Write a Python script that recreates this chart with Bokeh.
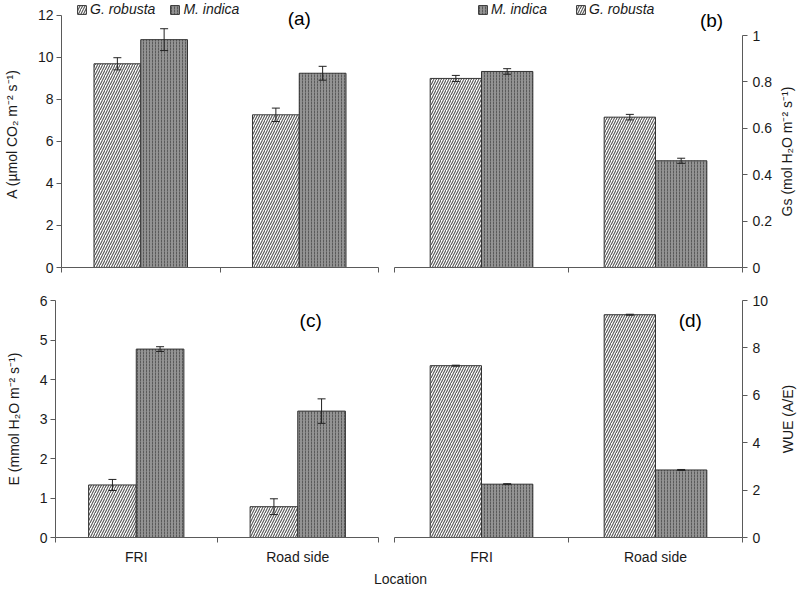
import math
import numpy as np
from bokeh.plotting import figure
from bokeh.models import (ColumnDataSource, Whisker, TeeHead, FixedTicker, Range1d,
                          Legend, LegendItem, Label)
from bokeh.layouts import column, row
from bokeh.embed import file_html
from bokeh.resources import INLINE

# ---------------- data ----------------
locations = ["FRI", "Road side"]
species = ["G. robusta", "M. indica"]

A_gr = [9.70, 7.27]
A_gr_err = [0.29, 0.32]
A_mi = [10.85, 9.25]
A_mi_err = [0.52, 0.33]

Gs_gr = [0.815, 0.648]
Gs_gr_err = [0.013, 0.012]
Gs_mi = [0.845, 0.460]
Gs_mi_err = [0.012, 0.011]

E_gr = [1.33, 0.78]
E_gr_err = [0.14, 0.20]
E_mi = [4.77, 3.20]
E_mi_err = [0.06, 0.31]

WUE_gr = [7.25, 9.40]
WUE_gr_err = [0.02, 0.02]
WUE_mi = [2.25, 2.85]
WUE_mi_err = [0.02, 0.02]

A_ticks = [0, 2, 4, 6, 8, 10, 12]
Gs_ticks = [0, 0.2, 0.4, 0.6, 0.8, 1]
E_ticks = [0, 1, 2, 3, 4, 5, 6]
WUE_ticks = [0, 2, 4, 6, 8, 10]

FONT = "Liberation Sans"
AX = "#5a5a5a"
TXT = "#1a1a1a"
BAR_W = 0.295


def make_panel(gr, gr_err, mi, mi_err, yticks, y_top, ylabel, side, frame_w, frame_h,
               borders, show_xlabels, legend_order, legend_xy, legend_spacing, tag, tag_xy,
               ylabel_standoff=15):
    l, r, t, b = borders
    n = len(locations)
    p = figure(width=l + frame_w + r, height=t + frame_h + b, title=None,
               x_range=Range1d(0, n), y_range=Range1d(yticks[0], y_top),
               toolbar_location=None, output_backend="svg",
               y_axis_location=side,
               min_border_left=l, min_border_right=r,
               min_border_top=t, min_border_bottom=b)
    p.outline_line_color = None
    p.xgrid.visible = False
    p.ygrid.visible = False
    p.background_fill_color = "white"
    p.border_fill_color = "white"

    xc = np.arange(n) + 0.5
    gr = np.array(gr); gr_err = np.array(gr_err)
    mi = np.array(mi); mi_err = np.array(mi_err)
    src_g = ColumnDataSource(dict(x=xc - BAR_W / 2, top=gr, upper=gr + gr_err, lower=gr - gr_err))
    src_m = ColumnDataSource(dict(x=xc + BAR_W / 2, top=mi, upper=mi + mi_err, lower=mi - mi_err))

    r_g = p.vbar(x="x", top="top", bottom=0, width=BAR_W, source=src_g,
                 fill_color="white", hatch_pattern="/", hatch_color="#555555",
                 hatch_scale=5, hatch_weight=1.1, line_color="#333333", line_width=1)
    r_m = p.vbar(x="x", top="top", bottom=0, width=BAR_W, source=src_m,
                 fill_color="#939393", hatch_pattern=":", hatch_color="#5a5a5a",
                 hatch_scale=3, hatch_weight=1, line_color="#333333", line_width=1)

    for src in (src_g, src_m):
        w = Whisker(source=src, base="x", upper="upper", lower="lower", dimension="height",
                    line_color="#222222", line_width=1,
                    upper_head=TeeHead(size=8, line_color="#222222", line_width=1),
                    lower_head=TeeHead(size=8, line_color="#222222", line_width=1))
        w.level = "overlay"
        p.add_layout(w)

    # y axis
    ya = p.yaxis[0]
    ya.ticker = FixedTicker(ticks=yticks)
    ya.bounds = (yticks[0], yticks[-1])
    ya.minor_tick_line_color = None
    ya.major_tick_out = 5
    ya.major_tick_in = 0
    ya.axis_line_color = AX
    ya.major_tick_line_color = AX
    ya.major_label_text_font = FONT
    ya.major_label_text_font_size = "14px"
    ya.major_label_text_color = TXT
    ya.major_label_standoff = 3 if side == "left" else 5
    if side == "left":
        ya.axis_label = ylabel
        ya.axis_label_text_font = FONT
        ya.axis_label_text_font_size = "14px"
        ya.axis_label_text_font_style = "normal"
        ya.axis_label_text_color = TXT
        ya.axis_label_standoff = ylabel_standoff

    # x axis: labels at centres, ticks at category boundaries
    xa = p.xaxis[0]
    xa.ticker = FixedTicker(ticks=xc.tolist(), minor_ticks=list(range(n + 1)))
    xa.major_tick_out = 0
    xa.major_tick_in = 0
    xa.minor_tick_out = 5
    xa.minor_tick_in = 0
    xa.axis_line_color = AX
    xa.minor_tick_line_color = AX
    xa.major_tick_line_color = None
    xa.major_label_text_font = FONT
    xa.major_label_text_font_size = "14px"
    xa.major_label_text_color = TXT
    if show_xlabels:
        xa.major_label_standoff = 6
        xa.major_label_overrides = {float(x): loc for x, loc in zip(xc, locations)}
    else:
        xa.major_label_standoff = 0
        xa.major_label_overrides = {float(x): "" for x in xc}

    if legend_order is not None:
        rmap = {species[0]: r_g, species[1]: r_m}
        items = [LegendItem(label=s, renderers=[rmap[s]]) for s in legend_order]
        leg = Legend(items=items, orientation="horizontal", location=legend_xy,
                     background_fill_alpha=0, border_line_alpha=0,
                     label_text_font=FONT, label_text_font_size="14px",
                     label_text_font_style="italic", label_text_color=TXT,
                     glyph_width=11, glyph_height=11, label_height=14,
                     label_standoff=3, spacing=legend_spacing, padding=0, margin=0)
        p.add_layout(leg)

    lab = Label(x=tag_xy[0], y=tag_xy[1], text=tag, text_font=FONT, text_font_size="19px",
                text_align="center", text_baseline="middle", text_color="black")
    p.add_layout(lab)
    return p


def right_label_strip(panel, yticks, text, width, borders, xpos):
    """Narrow figure holding the right-hand axis title, reading bottom to top."""
    t, b = borders
    s = figure(width=width, height=panel.height, title=None,
               x_range=Range1d(0, 1), y_range=panel.y_range,
               toolbar_location=None, output_backend="svg",
               min_border_left=0, min_border_right=0,
               min_border_top=t, min_border_bottom=b)
    s.outline_line_color = None
    s.axis.visible = False
    s.grid.visible = False
    s.add_layout(Label(x=xpos, y=(yticks[0] + yticks[-1]) / 2, text=text, angle=math.pi / 2,
                       text_font=FONT, text_font_size="14px", text_color=TXT,
                       text_align="center", text_baseline="middle"))
    return s


fa = make_panel(A_gr, A_gr_err, A_mi, A_mi_err, A_ticks, 12.714,
                "A (\u00b5mol CO\u2082 m\u207b\u00b2 s\u207b\u00b9)", "left",
                323, 267, (55, 8, 0, 16), False, species, (15, 250), 14, "(a)", (1.50, 11.86))
fb = make_panel(Gs_gr, Gs_gr_err, Gs_mi, Gs_mi_err, Gs_ticks, 1.1509,
                None, "right",
                348, 267, (8, 33, 0, 16), False, [species[1], species[0]], (83, 250), 28,
                "(b)", (1.822, 1.065))
sb = right_label_strip(fb, Gs_ticks, "Gs (mol H\u2082O m\u207b\u00b2 s\u207b\u00b9)", 25, (0, 16), 0.45)

fc = make_panel(E_gr, E_gr_err, E_mi, E_mi_err, E_ticks, 6,
                "E (mmol H\u2082O m\u207b\u00b2 s\u207b\u00b9)", "left",
                323, 237, (55, 8, 17, 33), True, None, None, 14, "(c)", (1.58, 5.49))
fd = make_panel(WUE_gr, WUE_gr_err, WUE_mi, WUE_mi_err, WUE_ticks, 10,
                None, "right",
                348, 237, (8, 33, 17, 33), True, None, None, 14, "(d)", (1.70, 9.16))
sd = right_label_strip(fd, WUE_ticks, "WUE (A/E)", 25, (17, 33), 0.5)

floc = figure(width=800, height=22, x_range=Range1d(0, 1), y_range=Range1d(0, 1), title=None,
              toolbar_location=None, output_backend="svg", min_border=0)
floc.outline_line_color = None
floc.axis.visible = False
floc.grid.visible = False
floc.add_layout(Label(x=0.5, y=0.6, text="Location", text_font=FONT, text_font_size="14px",
                      text_align="center", text_baseline="middle", text_color=TXT))

layout = column(row(fa, fb, sb), row(fc, fd, sd), floc)

with open("out.html", "w") as f:
    f.write(file_html(layout, INLINE))
